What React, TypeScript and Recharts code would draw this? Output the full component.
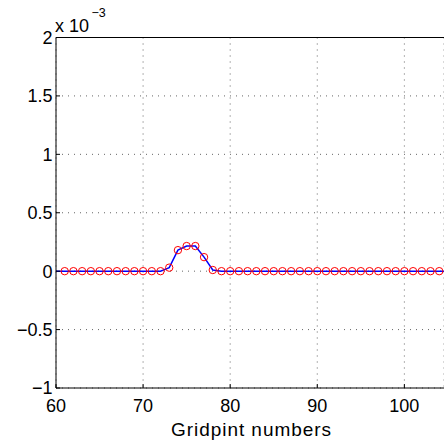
import { LineChart, Line, XAxis, YAxis, CartesianGrid } from "recharts";

// gridpoint index (x) and solution value in units of 1e-3 (y)
const gridpoints = [
  60, 61, 62, 63, 64, 65, 66, 67, 68, 69, 70, 71, 72, 73, 74, 75, 76, 77, 78, 79, 80, 81, 82,
  83, 84, 85, 86, 87, 88, 89, 90, 91, 92, 93, 94, 95, 96, 97, 98, 99, 100, 101, 102, 103, 104, 105,
];
const values = [
  0, 0, 0, 0, 0, 0, 0, 0, 0, 0, 0, 0, 0, 0.03, 0.18, 0.215, 0.215, 0.12, 0.01, 0, 0, 0, 0,
  0, 0, 0, 0, 0, 0, 0, 0, 0, 0, 0, 0, 0, 0, 0, 0, 0, 0, 0, 0, 0, 0, 0,
];
const xTicks = [60, 70, 80, 90, 100];
const yTicks = [-1, -0.5, 0, 0.5, 1, 1.5, 2];
const yTickLabels = ["−1", "−0.5", "0", "0.5", "1", "1.5", "2"];

const data = gridpoints.map((g, i) => ({ g, v: values[i] }));

const FONT = "'Liberation Sans', Arial, Helvetica, sans-serif";

const BottomTick = (p: any) => (
  <g>
    <line x1={p.x} x2={p.x} y1={p.y} y2={p.y - 4} stroke="#000" />
    <text x={p.x} y={p.y + 24} textAnchor="middle" fontSize={18} fontFamily={FONT} fill="#000">
      {p.payload.value}
    </text>
  </g>
);

const TopTick = (p: any) => (
  <line x1={p.x} x2={p.x} y1={p.y} y2={p.y + 4} stroke="#000" />
);

const LeftTick = (p: any) => {
  const idx = yTicks.indexOf(p.payload.value);
  return (
    <g>
      <line x1={p.x} x2={p.x + 4} y1={p.y} y2={p.y} stroke="#000" />
      <text x={p.x - 3.5} y={p.y + 6.4} textAnchor="end" fontSize={18} fontFamily={FONT} fill="#000">
        {yTickLabels[idx]}
      </text>
    </g>
  );
};

const Marker = (p: any) => {
  const g = p.payload?.g;
  if (g < 61 || g > 104) return <g key={p.key} />;
  return <circle key={p.key} cx={p.cx} cy={p.cy} r={3.7} fill="none" stroke="#ff0000" strokeWidth={1} />;
};

export default function App() {
  return (
    <div style={{ position: "absolute", left: 0, top: 0, width: 444, height: 446, background: "#fff" }}>
      <LineChart width={444} height={446} data={data} margin={{ top: 0, right: 0, bottom: 0, left: 0 }}>
        <CartesianGrid stroke="#666" strokeDasharray="1 5" />
        <XAxis
          dataKey="g"
          type="number"
          domain={[60, 104.55]}
          allowDataOverflow
          ticks={xTicks}
          interval={0}
          height={58}
          tickSize={0}
          tickMargin={0}
          tickLine={false}
          axisLine={{ stroke: "#000" }}
          tick={<BottomTick />}
        />
        <XAxis
          xAxisId="top"
          orientation="top"
          type="number"
          domain={[60, 104.55]}
          allowDataOverflow
          ticks={xTicks}
          interval={0}
          height={37.5}
          tickSize={0}
          tickMargin={0}
          tickLine={false}
          axisLine={{ stroke: "#000" }}
          tick={<TopTick />}
        />
        <YAxis
          type="number"
          domain={[-1, 2]}
          ticks={yTicks}
          interval={0}
          width={56}
          tickSize={0}
          tickMargin={0}
          tickLine={false}
          axisLine={{ stroke: "#000" }}
          tick={<LeftTick />}
        />
        <Line
          dataKey="v"
          stroke="#0000ff"
          strokeWidth={1.5}
          dot={<Marker />}
          activeDot={false}
          isAnimationActive={false}
        />
        <text x={55} y={31.7} fontSize={18} fontFamily={FONT} fill="#000">
          x 10
        </text>
        <text x={91.5} y={17.3} fontSize={12.5} fontFamily={FONT} fill="#000">
          −3
        </text>
        <text
          x={251}
          y={436}
          textAnchor="middle"
          fontSize={19}
          fontFamily={FONT}
          fill="#000"
          textLength={160}
          lengthAdjust="spacing"
        >
          Gridpint numbers
        </text>
      </LineChart>
    </div>
  );
}
